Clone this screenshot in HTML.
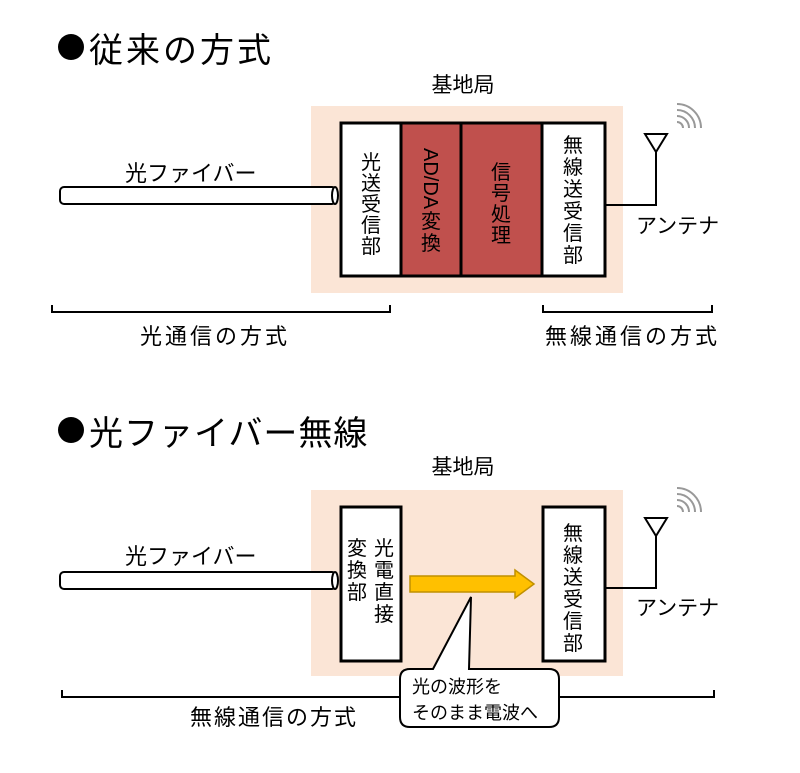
<!DOCTYPE html>
<html><head><meta charset="utf-8"><style>
html,body{margin:0;padding:0;background:#fff;}
svg{display:block;}
text{font-family:"Liberation Sans","Noto Sans CJK JP",sans-serif;fill:#000;}
</style></head><body>
<svg width="800" height="773" viewBox="0 0 800 773" xmlns="http://www.w3.org/2000/svg">
<!-- ===== Top section ===== -->
<circle cx="71" cy="47" r="13" fill="#000"/>
<text x="89" y="62" font-size="34" letter-spacing="3">従来の方式</text>
<text x="463" y="92" font-size="21" text-anchor="middle">基地局</text>
<rect x="311" y="106" width="312" height="187" fill="#fbe5d6"/>
<rect x="341" y="123" width="60" height="153" fill="#fff" stroke="#000" stroke-width="3"/>
<rect x="401" y="123" width="60" height="153" fill="#c0504d" stroke="#000" stroke-width="3"/>
<rect x="461" y="123" width="81" height="153" fill="#c0504d" stroke="#000" stroke-width="3"/>
<rect x="542" y="123" width="63" height="153" fill="#fff" stroke="#000" stroke-width="3"/>
<g font-size="20" text-anchor="middle">
<text x="371" y="169">光</text><text x="371" y="190">送</text><text x="371" y="211">受</text><text x="371" y="232">信</text><text x="371" y="253">部</text>
<text transform="translate(424,148) rotate(90)" font-size="20" text-anchor="start">AD/DA</text>
<text x="431" y="228">変</text><text x="431" y="250">換</text>
<text x="501" y="179">信</text><text x="501" y="200">号</text><text x="501" y="221">処</text><text x="501" y="242">理</text>
<text x="573" y="152">無</text><text x="573" y="174">線</text><text x="573" y="196">送</text><text x="573" y="218">受</text><text x="573" y="240">信</text><text x="573" y="262">部</text>
</g>
<!-- fiber -->
<text x="125" y="181" font-size="22">光ファイバー</text>
<rect x="60" y="187" width="276" height="17" rx="4" fill="#fff" stroke="#000" stroke-width="2"/>
<ellipse cx="335" cy="195.5" rx="3" ry="8.5" fill="#fff" stroke="#000" stroke-width="2"/>
<!-- antenna -->
<polyline points="605,205 656,205 656,152" fill="none" stroke="#000" stroke-width="2"/>
<polygon points="645,134 667,134 656,152" fill="#fff" stroke="#000" stroke-width="2"/>
<g fill="none" stroke="#999" stroke-width="2">
<path d="M683,128 a6,6 0 0 0 -6,-6"/><path d="M689,128 a12,12 0 0 0 -12,-12"/>
<path d="M695,128 a18,18 0 0 0 -18,-18"/><path d="M701,128 a24,24 0 0 0 -24,-24"/>
</g>
<text x="636" y="233" font-size="21">アンテナ</text>
<!-- brackets -->
<polyline points="52,305 52,312 390,312 390,305" fill="none" stroke="#000" stroke-width="2"/>
<text x="140" y="344" font-size="22" letter-spacing="3">光通信の方式</text>
<polyline points="543,305 543,312 712,312 712,305" fill="none" stroke="#000" stroke-width="2"/>
<text x="545" y="344" font-size="22" letter-spacing="3">無線通信の方式</text>

<!-- ===== Bottom section ===== -->
<circle cx="71" cy="430" r="13" fill="#000"/>
<text x="89" y="445" font-size="34" letter-spacing="1">光ファイバー無線</text>
<text x="463" y="474" font-size="21" text-anchor="middle">基地局</text>
<rect x="311" y="490" width="312" height="186" fill="#fbe5d6"/>
<rect x="341" y="507" width="60" height="154" fill="#fff" stroke="#000" stroke-width="3"/>
<rect x="543" y="507" width="62" height="154" fill="#fff" stroke="#000" stroke-width="3"/>
<g font-size="20" text-anchor="middle">
<text x="384" y="555">光</text><text x="384" y="577">電</text><text x="384" y="599">直</text><text x="384" y="621">接</text>
<text x="357" y="555">変</text><text x="357" y="577">換</text><text x="357" y="599">部</text>
<text x="573" y="540">無</text><text x="573" y="562">線</text><text x="573" y="584">送</text><text x="573" y="606">受</text><text x="573" y="628">信</text><text x="573" y="650">部</text>
</g>
<text x="125" y="564" font-size="22">光ファイバー</text>
<rect x="60" y="572" width="276" height="17" rx="4" fill="#fff" stroke="#000" stroke-width="2"/>
<ellipse cx="335" cy="580.5" rx="3" ry="8.5" fill="#fff" stroke="#000" stroke-width="2"/>
<!-- yellow arrow -->
<polygon points="410,576 515,576 515,570 534,584 515,598 515,592 410,592" fill="#ffc000" stroke="#c09000" stroke-width="1.5"/>
<!-- antenna -->
<polyline points="605,588 656,588 656,536" fill="none" stroke="#000" stroke-width="2"/>
<polygon points="645,518 667,518 656,536" fill="#fff" stroke="#000" stroke-width="2"/>
<g fill="none" stroke="#999" stroke-width="2">
<path d="M683,512 a6,6 0 0 0 -6,-6"/><path d="M689,512 a12,12 0 0 0 -12,-12"/>
<path d="M695,512 a18,18 0 0 0 -18,-18"/><path d="M701,512 a24,24 0 0 0 -24,-24"/>
</g>
<text x="636" y="615" font-size="21">アンテナ</text>
<!-- bracket -->
<polyline points="62,690 62,697 714,697 714,690" fill="none" stroke="#000" stroke-width="2"/>
<text x="190" y="725" font-size="22" letter-spacing="2">無線通信の方式</text>
<!-- callout -->
<path d="M410,669 H433 L471,597 L469,669 H549 Q559,669 559,679 V717 Q559,727 549,727 H410 Q400,727 400,717 V679 Q400,669 410,669 Z" fill="#fff" stroke="#000" stroke-width="2"/>
<text x="412" y="693" font-size="18">光の波形を</text>
<text x="412" y="719" font-size="18">そのまま電波へ</text>
</svg>
</body></html>
